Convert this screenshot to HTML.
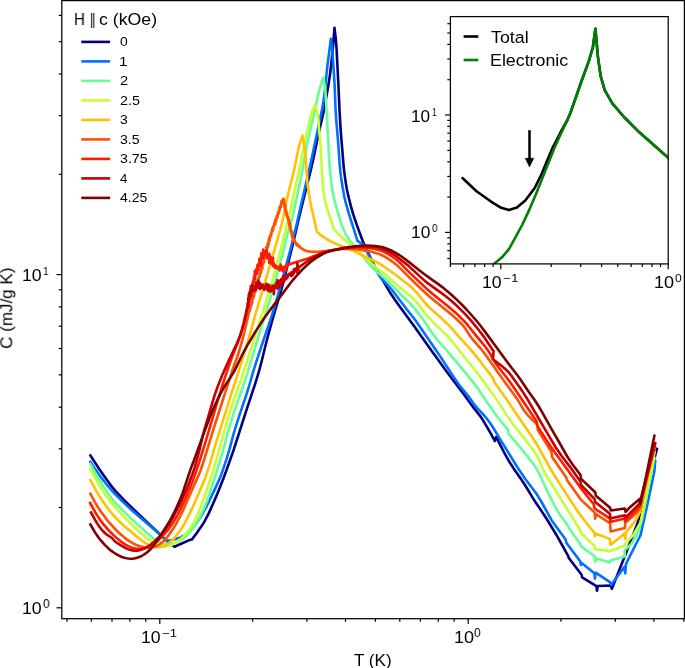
<!DOCTYPE html>
<html><head><meta charset="utf-8"><title>Specific heat</title>
<style>
html,body{margin:0;padding:0;background:#fff;}
#fig{position:relative;width:685px;height:668px;overflow:hidden;background:#fff;font-family:"Liberation Sans",sans-serif;color:#000;}
#fig svg{position:absolute;left:0;top:0;}
.t{position:absolute;white-space:pre;line-height:normal;transform-origin:0 0;will-change:transform;}
</style></head><body>
<div id="fig">
<svg width="685" height="668" viewBox="0 0 685 668">
<polyline points="90.4,455.5 99.2,469 103.8,475.6 107.3,480.5 110.3,484.6 112.8,487.7 115.4,490.8 118.7,494.5 123.6,499.7 129.3,505.3 146.8,521.9 161.4,535.8 164.4,538.6 167.4,541.2 170.5,543.7 174.5,546.8 189.3,540.1 192,539.4 196.8,533 200.2,528.1 203.5,523.1 206,518.7 208.7,513.4 212,506.1 216.4,496 220.2,486.8 223.1,479.3 226.9,469 230.6,458.6 233.9,449.2 245.8,412.1 255.2,383.6 257.6,375.9 259.3,370.2 261.6,361.5 266.1,343 268.9,332.4 273.2,317 279.8,294.9 283,283.4 293,243.6 298.6,219.3 311.1,168.8 313.1,160 318,136.5 322.4,117 323.7,111.1 326.4,96.4 328.5,84.6 330.1,73.7 331.5,61.8 333,45.8 334.5,27.9 335.8,38.8 336.5,47.8 338.5,86.8 339.6,111.8 340.6,128.8 341.1,135.8 342.3,149.8 343.4,163.7 344,169.7 344.9,176.7 345.9,183.6 347.1,190.5 348.9,198.3 350.9,206.1 353.1,213.8 355.6,221.4 358.6,229.9 361.7,238.3 363.6,243 365.6,247.5 375.1,267.4 377.5,271.7 382.3,279.3 387.8,288.9 391,294 394.9,299.8 399.5,306.3 414.4,326.5 427.1,344.4 446.4,371.2 451.8,378.5 464,394.4 473.3,407.4 478.9,414.4 480.7,416.8 482.9,420.1 486,425.3 490,432.2 494.8,441 496.2,436.9 500.7,445.8 504.4,453 507.2,458.2 509.8,462.5 513.6,468.4 521,479.1 523.8,483.2 526.5,487.5 533.2,498.6 535.4,502 541,510.2 545.9,517.8 553.3,529.7 558.4,538.3 562.3,545.3 568.1,555.8 568.8,558 581.6,574.7 582.2,577.4 596.4,586.1 597,590.8 597.7,586 610.5,585.5 611.9,588.8 626,553 637.5,523.5 656.9,448.9" fill="none" stroke="#000080" stroke-width="2.6" stroke-linejoin="round" stroke-linecap="square" />
<polyline points="90.4,461.8 94.2,467.7 97,471.8 100,475.9 103,479.9 106.1,483.8 109.3,487.6 112.6,491.4 116,495 122.4,501.4 130.4,508.9 140.2,517.5 156.9,531.8 161.4,535.8 166.4,540.7 171.8,540.1 180.5,537.4 183.9,535.3 186.4,533.7 188.7,531.9 190.2,530.5 192.3,528.4 194.2,526.1 196,523.7 198.3,520.4 200.4,517 203,512.8 205,509.3 207.3,504.9 209.5,500.4 216.4,485.9 219.7,478.6 221.1,474.9 222.8,470.2 226.6,458.8 229.5,449.2 233.4,434.7 235.4,427.9 238.4,418.4 246.4,394.7 248.5,388 253.2,371.6 256.2,362.1 262.8,342.1 270.6,319.4 274,308.9 278.1,294.5 283.8,274.2 289.8,252 293.5,237.4 296.3,225.7 301.6,202.3 306.7,180.9 308.7,172.1 311.3,160.4 319.8,120.2 322.4,107.4 323.4,101.5 324.1,96.6 325.3,86.6 327.4,65.7 330.9,38.9 331.9,46.9 332.5,52.8 332.9,58.8 333.8,71.8 334.6,84.9 335.5,107.9 336.1,117.9 338.4,145.9 339.7,164.9 340.3,170.9 341,176.9 342.2,184.8 343.4,191.7 344.5,197.6 345.9,203.4 347.3,208.3 348.7,213.1 357.5,240.8 361.6,243.5 363.5,244.8 368.9,255.6 374.4,266.2 377.5,272.5 378.9,275.1 380,276.7 381.2,278.3 382.4,279.8 388,285.3 390.7,288.3 406.5,309 415.2,320 418.7,324.9 435.2,348.9 440.2,356.4 455,379 459,384.8 461.5,387.9 467.9,395.6 469.7,398 473.7,403.7 475.6,406.1 477.5,408.3 482.3,413.4 484.9,416.4 487.5,419.5 489.9,422.7 493.2,427.8 501,440.6 516.8,466.2 520.6,472.1 525.1,478.7 535.4,492.3 537.1,494.8 538.7,497.3 541.8,502.5 551.5,520 552.8,522 565.6,539.5 566.5,543 580.2,561.2 580.9,565 581.6,563 594.4,573.3 595,578.6 595.7,572.7 609.9,582.1 611.2,584.8 624.7,566.6 625.3,573.3 626,563.8 640.6,535 647.6,503.5 654.4,471.1 655.2,461.2" fill="none" stroke="#0070ff" stroke-width="2.6" stroke-linejoin="round" stroke-linecap="square" />
<polyline points="90.4,463.9 94.2,471 97.1,476.2 100.2,481.4 103.3,486.5 106.1,490.6 108.9,494.7 112,498.7 114.5,501.8 117.9,505.5 122.8,510.4 130,517.4 136.5,523.6 141,527.6 152.3,537.5 155.5,539.9 158,541.4 160.6,542.7 163.4,543.6 166.3,544 168.2,544.1 170.1,544 173,543.4 175.8,542.6 178.5,541.4 181.1,540 182.8,538.9 185.1,537.1 187.3,535.1 189.3,532.9 191.8,529.7 194.1,526.5 196.8,522.3 198.8,518.9 201.1,514.4 203.3,509.9 205.6,504.4 207.1,500.7 208.4,496.9 214.7,477.9 217.7,468.4 221.2,456.9 223.4,449.2 228.1,431.8 231.5,420.3 235.8,406.9 243.8,384.3 247,374.8 249.3,367.1 259.5,332.6 261.6,325.9 265.4,314.5 267.2,308.8 273,288.6 277.9,271.3 282.6,253.9 284.6,246.1 288.4,230.6 292.1,218.1 293.4,213.3 296.9,196.7 299.9,183 301.1,177.1 302.6,169.2 306,149.5 307.6,141.7 313.1,118.3 317.5,97.8 318.6,92.9 319.4,90 320.5,86.1 323.3,77.6 324.7,85.5 325.2,89.5 325.6,93.4 326.1,102.4 327.5,128.5 328.6,147.5 329.5,164.5 329.9,169.5 330.5,175.5 331.1,181.4 331.8,186.4 332.8,192.3 333.7,197.3 334.9,202.1 336.5,207.9 339.4,217.5 341.5,224.2 343.7,229.8 344.9,232.5 345.8,234.3 346.8,236 348.4,238.6 351.3,242.6 353.9,245.7 361,254.1 368.6,263.4 371.2,266.4 373.3,268.6 376.2,271.3 384.7,278.3 388.4,281.7 398.8,292.5 407.5,300.8 409.6,302.9 412.3,305.9 414.9,308.9 418.7,313.6 421.7,317.6 424.6,321.7 431.3,331.7 433.6,334.9 436,338.1 439.2,342 447.2,351 451.1,355.6 461.3,367.9 470.3,378.7 474.1,383.4 478.2,389 484.9,399 490.1,406.4 495.1,413.8 496.9,416.3 501.2,421.8 508.3,430.2 508.3,433.5 517.4,444.2 526.4,455 531.9,462.1 534.3,465.4 535.9,467.9 538,471.3 539.4,474 540.7,476.7 544.8,485.8 548.2,493.1 553.6,503.9 556.9,510 558.5,512.6 560.2,515.1 564.4,520.7 566.1,523.1 567.7,525.6 570.8,530.7 573,534 576,538.1 580.2,543.7 580.9,546.4 595,556.5 595.3,561.9 596.4,558.5 609.9,562.5 610.5,560.5 624.7,556.5 624.7,550.4 631.4,543.7 638.1,532.9 642.2,518.1 654.4,458" fill="none" stroke="#63ff94" stroke-width="2.6" stroke-linejoin="round" stroke-linecap="square" />
<polyline points="90.4,469.3 93.7,475.5 96.6,480.7 99.2,485 102.4,490.1 105.7,495.1 109.2,500 112.3,503.9 115.5,507.8 120.2,513 125.8,518.7 142.4,534.6 145.4,537.2 147.8,539 151.1,541.3 154.5,543.3 157.2,544.7 159,545.4 161.8,546.2 163.7,546.4 165.6,546.4 167.5,546.2 169.3,545.8 172.1,544.7 174.7,543.3 177.1,541.7 180.2,539.2 183.2,536.5 185.9,533.6 188.5,530.5 190.8,527.3 192.5,524.8 194,522.2 195.8,518.7 197.4,515 199.3,510.4 204.5,496.3 211.9,474.5 214.3,466.8 216.8,458.2 225.6,426.3 228.4,416.7 230.4,410 233.9,399.5 240.4,381.7 243.2,373.1 255.3,334.9 262.8,312.1 265.7,302.5 272.8,278.5 276.1,267 279.5,254.4 289.3,215.6 290.4,210.7 293.4,196 298.4,173.5 305.2,140.2 310.1,118.7 311.1,114.8 312,112 313.1,109.2 315.1,104.6 316.5,109.4 317.3,112.4 317.9,115.3 318.4,119.3 319.2,130.4 320.4,144.4 320.9,150.4 321.3,158.5 321.9,173.6 322.3,178.6 323.1,187.6 323.9,194.6 325,200.6 325.7,203.5 326.7,207.4 328.2,212.2 334,229.4 343.9,239.3 349.1,244 361.3,254.3 370.2,262.4 374,265.7 377.8,268.9 385,274.3 387.3,276.2 389.5,278.2 394.7,282.9 396.9,284.9 407.8,293.8 412.2,297.7 415,300.6 417.7,303.6 419.5,305.9 425,313.1 427.5,316.2 430.2,319.1 433.6,322.8 437.1,326.4 445.1,333.9 447.2,336 449.9,339 452.5,342 473.1,367.8 480.5,377.3 494.6,396.7 498.1,401.6 501.4,406.6 507.2,415.9 510.5,420.9 514.1,425.7 522.2,435.9 527.8,442.9 531.4,447.7 534.3,451.8 536.4,455.2 538.4,458.7 540.1,462.3 544.1,471.4 545.4,474.1 546.9,476.7 565.5,506.3 580.2,530.2 580.5,532.5 594.4,545.7 595,549 609.9,551.1 624.7,545.7 625.3,543.7 632.8,535.6 640.8,522.1 654.6,452" fill="none" stroke="#c4ff33" stroke-width="2.6" stroke-linejoin="round" stroke-linecap="square" />
<polyline points="90.4,480 93.7,486.2 96.1,490.6 98.6,494.9 101.3,499.1 104.7,504.1 107.6,508.1 110.7,512 114,515.8 117.4,519.5 120.9,523 124.6,526.4 128.4,529.6 137.6,537.3 140.7,539.8 144.8,542.7 148.2,544.7 150.9,545.9 152.8,546.5 154.6,547 155.6,547.1 157.5,547.3 159.4,547.2 161.3,546.8 163.1,546.3 165.8,545.1 167.4,544 169.8,542.3 172,540.3 174.1,538.2 176.1,535.9 178.5,532.8 180.9,529.5 183,526.2 185,522.7 187.4,518.3 190,512.9 193,506.6 196.6,498.3 202.5,484.5 205.2,478 206.9,473.3 209.1,466.7 214,449.4 219,433.1 225.7,412.1 230.3,396.8 236.9,376.9 245.5,349.1 250.4,332.8 254.8,316.4 256.8,309.7 271.3,260.8 278,237.7 280.2,230 281.4,225.1 282.8,219.3 286.4,201.7 287.9,194.8 289.6,188 293.2,173.5 294.6,167.6 295.6,162.7 297.3,153.9 298.1,150 298.8,147 299.9,143.2 302.4,135.6 304.2,145.5 305.3,153.4 306,161.5 306.8,174.5 307.3,180.5 308,187.5 309,194.5 310,200.4 311.4,207.3 317,231.8 320.8,235 324.1,237.4 327.4,239.5 330.9,241.5 333.6,242.8 336.4,244 347.6,248.3 352.2,250.3 364.8,256.5 374.8,261.2 379.2,263.5 383.4,266.2 394.9,274.3 397.2,276.1 409.8,286 412.8,288.6 416.3,292.2 418.9,295.3 424.5,302.3 427.9,306 431.5,309.5 439,316.1 443.5,320.2 448.5,325.1 452,328.7 459.2,337 469.3,348.2 475.8,355.8 479.6,360.5 483.3,365.2 492.9,378.1 494.3,382 502.5,393.4 507,400 519.3,418.3 530.1,434 533.4,439 536.1,443.2 539.1,448.4 543,455.4 549.3,466.8 553.3,473.7 563,488.9 573.4,504.9 577.9,511.5 582,517.2 586.9,523.5 594.4,532.9 595,536.3 595.7,533.6 609.9,539 610.5,545 624.7,533.6 625.3,539 626,532.2 635.5,520.8 640,512 654.6,447" fill="none" stroke="#ffc100" stroke-width="2.6" stroke-linejoin="round" stroke-linecap="square" />
<polyline points="90.4,493.8 95.2,502.6 98.8,508.6 101.1,511.9 103.4,515.1 106.4,519.1 108.9,522.2 111.6,525.2 114.3,528.1 117.1,531 120,533.7 123,536.3 126.1,538.9 128.5,540.6 131,542.2 133.6,543.7 136.3,544.9 139.1,546 141,546.5 143.9,547.2 145.9,547.5 148.8,547.6 150.7,547.5 153.6,547 155.5,546.4 157.2,545.7 159,544.7 160.6,543.6 162.1,542.4 163.5,541.1 165.6,538.9 167.5,536.6 169.3,534.2 171,531.8 173.3,528.5 176.9,522.5 180.2,516.3 183.7,509.1 190.4,493.5 197,478.9 199,474.3 200.8,469.7 202.7,464 204.9,457.4 213.6,428.6 219.2,411.5 223.7,397.2 227.1,386.8 230.7,375.3 232.6,369.6 237.4,356.5 239.8,348.9 242,341.2 244.6,331.5 246.6,322.7 249,312 249.1,311 248.9,310.2 248.8,310.4 249.8,310.9 249.7,309.2 249.8,309 249.4,308.8 250.3,309 249.6,308.6 250.3,307.8 250.1,306.4 249.9,308.2 250,307.7 250.2,306 251.2,306.5 250.7,305.6 250.5,304.9 250.7,306 251.3,305 251.6,304.3 251.3,302.8 251.4,303.9 251.5,304.3 252.2,302.9 252.3,301.8 251.8,301.2 252.2,301.3 251.9,300.7 252.1,299.2 252.4,300.2 252,300.2 252.6,298.7 252.4,298.4 253.1,299 252.5,297.8 253.2,297.8 252.7,297.4 253.4,297.9 252.9,296.2 253.3,296.5 253.6,296.8 254.2,295.3 253.5,295.8 253.6,294.4 254.3,294.4 253.9,293.9 254.6,293.2 253.9,293.7 254.1,291.1 255.1,290.8 254.8,292.7 255.2,291.7 255.3,290.8 255.1,290.3 255.2,289.9 255.8,289.5 255.8,289.9 255.9,289.8 255.5,289.7 256,288.1 256.1,288.1 255.8,288.2 256.3,287 256.6,286.4 256.3,286.4 257,286.9 256.7,284.3 257.2,283.9 257.1,283.9 257.4,284.9 257.4,283.3 257.1,283.2 257.6,283 257.7,282.7 258,282.8 258.1,280.3 257.9,281.7 257.6,280.4 257.9,280 258.4,282 258.4,279.6 258.5,279.2 258.8,278.6 258.6,279 258.7,278.1 258.5,277.5 258.9,277 259.4,275.8 259.8,276.5 259.4,276.4 259.5,276.3 259.5,276.5 259.6,274.1 259.5,276.3 259.9,274.1 260.1,274.3 260,274.2 260.6,272.5 260.2,271.6 261,272.5 260.5,270.3 261.2,271.9 260.7,269.8 261,270.4 261.4,269.2 261.4,268.1 261.6,268.8 261.4,270.2 261.7,268.3 261.4,268.9 261.6,267.4 261.5,267.4 262.4,266.8 262.3,268.7 262.2,267.6 262.2,264.8 262.1,264.7 262.7,264.1 263,263.9 262.6,265.1 262.8,263.5 262.9,264.3 263.4,263.6 263,263.4 263.8,262.3 263.8,262.1 263.9,262.1 263.9,260.7 263.5,262 264.2,261.8 263.6,260.3 263.8,259.7 263.6,259.6 264.4,259.4 264.1,258.8 264.2,258.7 264.9,257.5 264.8,257.2 264.8,256.1 265,256.9 265.2,255.1 265,255.8 265.2,254.8 265.2,255.6 265.5,254.3 265.4,256 265.9,253.1 265.8,251.5 265.7,252.1 266.1,253.2 266.3,252.4 265.7,252 265.8,251.4 266,251 266,250.1 267,249.1 267.1,249.7 266.2,247.3 266.5,249.7 266.6,248.1 267.3,247.2 267,248.2 267,248.2 267.8,247.5 268,246.7 267.4,244.3 267.5,246.7 268,244.8 267.4,245.1 268.3,245.4 268.5,244.2 268.1,243 268.7,244.3 268.2,242.9 268.7,241.8 268.4,242 268.7,241.5 269,241.1 269.5,241 269.1,240 268.8,240.2 269,238.7 269.5,238.6 269.5,238.5 269.5,237 269.6,240.5 269.9,237.4 270,237.6 269.9,236.8 270.1,237.4 270.9,236.1 270.7,236.6 270.6,234.4 270.4,235 271.1,235.2 271.3,234.7 271.6,233.7 271.2,233.1 271.2,233.4 271.2,232.2 271.8,231.6 271.8,231.1 272.4,229.6 272,231.5 272.2,229.8 272.6,231.2 272.2,228.5 272.6,229.2 272.9,228 272.8,227.7 272.9,229.8 273.5,228 273.2,229.1 273.1,226.6 273.9,226 273.5,226.5 273.8,226.1 273.6,225.5 274,225.2 274.6,225 274.3,223.1 275,223.9 274.3,223.7 275.2,224.6 275.4,221.9 274.8,222.2 275.6,222 275.7,220.5 275.3,219.5 275.2,220.4 275.9,221 276.2,221.4 276.2,219.4 276.2,219.2 276.2,218.5 276.9,218.5 276.6,216.5 277.1,216.9 276.9,215.6 276.9,216.2 277.5,217.7 277.3,216.1 277.5,216 277.4,215 278,214.6 278.1,213.2 278.1,214.6 277.9,212.5 278,213.3 277.8,212.8 278.9,212.9 278.2,212.6 279.2,210.9 279.2,210.9 279.3,211.2 279,210.1 279.4,209.6 279.6,210.4 279.8,209.6 279.4,207.4 280,207.7 279.5,208 280.2,207.1 280.2,207.2 280.3,206.1 280.6,207.1 280.7,207.5 280.6,205.2 281.3,204.2 280.7,206.2 281.1,205.2 281.6,203.2 281.2,204.8 281.3,204.3 281.5,201.2 282.2,202.7 282.6,201.9 282.7,200.5 282.2,202.8 283,201.1 282.9,199.5 282.7,199.6 283.1,199.1 283.6,199.9 283.7,198.9 283.4,200.2 283.8,200.1 283.9,199.1 283.9,201.1 283.8,201.7 283.8,202.6 283.9,203.1 283.8,202.6 284.7,203.1 284.5,203.2 284.3,204.2 284.2,206.2 284.7,204.7 284.8,206 284.4,206.6 284.7,205.9 284.7,206.5 285.3,205.6 284.8,207.7 284.9,208.8 285.6,208 285.5,209.9 285.6,210.7 286.1,209.9 285.8,210.4 285.6,210.7 285.6,210.3 285.7,210.9 286.6,213.2 286.5,211.7 286.7,212.4 286.1,212.9 287,213.8 286.4,214.9 286.3,214.5 287.1,214.7 286.7,215.2 287,216.3 287.2,214.9 286.9,216.2 287.7,216.8 287.9,217.3 288.1,217.2 287.4,217.9 288.2,218.1 287.7,218.2 288.2,218.3 287.8,218.1 288.7,218.8 288.4,220.5 289,220.2 289.1,221 288.5,221 289.1,221.8 289.3,221.5 289.1,222.5 288.7,222.7 289.1,224 289.8,223 290,223 289.8,225 290,225.9 289.5,225.9 289.9,225.1 290.4,224.9 290,226 289.8,227.9 290.8,227 290.3,228.3 290.8,228.3 290.2,228.9 290.4,227.5 290.4,227.9 290.9,229.4 290.8,230.7 290.7,230.1 290.7,231.2 290.9,232.4 291.8,231.3 291.7,232.1 291.1,232 292.1,232.5 291.3,232.3 292.1,233.5 291.6,234.1 292.5,234.4 291.7,234.8 292.4,234.9 291.9,236.4 292.1,235.5 292.2,236.6 292.3,236.7 292.4,237.5 292.9,238.9 293.3,238.6 293.4,239.1 293.3,239 293.5,240.8 293.3,240.6 294.4,239.6 293.7,239.1 294.7,242.5 294.6,241.4 294.9,240.7 295.1,242.7 295.3,242 295.7,243.7 296.3,243.6 296.4,243.2 296.2,243.4 297,244.6 296.7,245.1 297.5,245.5 297.4,244.1 298,245.2 298.1,245.5 298.7,246 298.7,246.4 299.9,246.3 299.7,247.2 303.1,249.4 304.9,250.3 305.8,250.7 306.7,251 308.7,251.4 311.7,251.7 315.7,251.8 319.7,251.6 327.7,250.7 338.7,249.3 343.7,249 347.7,248.8 350.7,248.9 354.7,249.1 359.7,249.7 365.6,250.6 370.5,251.5 374.4,252.4 377.3,253.4 380,254.4 382.8,255.7 385.4,257.1 388,258.7 391.3,260.9 394.5,263.3 397.6,265.8 399.8,267.9 401.9,270 408.2,276.4 411.1,279.3 426.3,293.8 429.3,296.4 432.4,299 447.2,310.9 451.8,314.8 457.8,320.2 460.6,323 462.7,325.2 464.6,327.5 465.7,329.1 469.9,335.7 471.6,338.1 473.5,340.4 478.1,345.6 480.7,348.7 483.2,351.8 486.2,355.8 504.2,381.2 516.6,398.2 519.3,402.4 523.3,409.3 525.6,412.5 527.5,414.8 529.5,417 532.3,419.9 537.3,424.8 537.9,430 551.4,451.8 552.1,457 566.3,477.5 566.9,480 580.4,499.1 594.6,512.5 595.2,518.6 595.9,514 610.1,523.3 610.7,531.4 624.9,528 625.3,522.8 636.8,512.7 640,508 654.6,445" fill="none" stroke="#ff5200" stroke-width="2.6" stroke-linejoin="round" stroke-linecap="square" />
<polyline points="90.1,502.9 94.9,511.7 97,515.1 98.6,517.6 100.9,520.9 103.3,524.1 105.9,527.1 108.5,530.1 111.3,533 114.9,536.4 117.9,539.1 121,541.6 124.3,543.9 126.8,545.4 129.5,546.8 131.3,547.5 134.1,548.4 136,548.7 138,548.9 139.9,548.8 141.9,548.6 144.7,548 146.6,547.4 149.3,546.2 151.9,544.8 154.4,543.1 156.8,541.3 159.1,539.4 161.2,537.4 163.3,535.2 165.3,533 167.9,529.9 171.4,525 174.6,520 177.6,514.8 180.8,508.6 184.6,500.4 189,490.3 192.3,481.9 195.7,472.5 199.2,462.1 204.3,445.9 208.9,430.5 217.4,401.7 221.2,389.3 224.8,377.8 228,368.3 230.3,361.7 232.4,356.1 237.6,343.1 239,339.4 240.3,335.6 241.9,329.8 243.6,323 245.8,313.2 248.5,300.5 248.4,298.8 249,296.7 248.5,299.4 248.6,300 249.2,300.1 248.8,299.8 249,293.9 249.4,298.7 248.9,296.5 249.9,297.4 249.9,297.2 249.9,291.7 250.2,295.5 250.2,293 250,294.3 250,291.1 250,291.7 249.9,293.7 250.7,294.4 250.7,286.3 250.6,291.7 250.8,290.2 250.7,291.5 250.9,291.8 250.7,287.3 251,290.4 250.8,287.8 251,289 251.1,288 251.6,288.8 252,285.2 252.1,289.5 251.3,289.4 252.2,289.6 252.1,287.4 252.5,287.7 252.6,285.9 252.7,283.7 252.3,284.4 253,283.2 252.7,283.7 252.9,282.1 253,281.4 253.2,281.6 253,282 253.4,283.1 253,281.6 253.6,281.9 253.7,280.1 253.7,280.2 253.7,280.1 254.5,279.6 253.7,278.6 254.3,280.3 254,276.4 254.8,278.3 254.2,276.3 255.2,279.3 254.9,273.7 254.8,276.8 254.7,271.3 255.6,275.5 255.2,273.5 255.3,271 255.8,273.4 255.6,275.2 255.7,273.2 256,273.6 255.9,272.9 255.9,269.5 256.8,272.9 256.7,273.8 256.6,270.7 256.6,273 257.4,273.4 256.9,272.6 257.2,269.2 257.1,269.6 257.5,264.9 258.3,270 257.4,267 258.3,267.4 258,269.3 258,265.2 258,266.4 258.3,270.2 258.7,264.2 259.2,266.5 258.8,264.1 259.6,261.2 259.3,265.9 259.5,262.4 259.7,265.5 259.3,258.9 259.5,258.6 260,261.1 259.9,263.3 259.9,260.7 260,264.1 260.2,261 261,265.5 261.3,253.3 261.1,256.2 261.5,255.9 261.3,258.4 261.4,256.9 262.3,255.9 262.2,257.5 262.1,257.3 262,256.5 262.3,257.5 263,255 263.2,249.5 263.3,258.2 263.2,254.3 263.9,256.4 263.7,254.3 264,255.2 264,252.6 265,252.5 264.7,254.7 265.2,254.5 266.1,250.5 266.4,253.4 266.1,253.6 266.7,250.9 267.5,258.5 266.9,255.3 267.8,255.5 267.7,256 268.3,255.7 268.2,258.6 268.1,256.2 268.5,256.8 269,256.5 268.5,258.9 269.4,253.8 269.6,260.4 269.2,262.8 270.1,256.5 270.4,258 270.4,256.7 270.6,260 270.9,261.5 271.1,263.6 271.4,262.2 271.5,262.2 271.7,257.6 272.4,259.5 272.3,262.6 273.1,258.1 272.8,265.1 273.4,266.4 273.3,262.4 273.3,262.2 274.3,265 274.6,267.3 274.5,265.1 275,265.6 274.9,265 275.1,265.3 276.3,268 275.9,268.3 276.3,266.2 277.5,268 277.1,267.9 277.5,266.5 278,268.7 278.3,267.7 278.9,267.4 279.7,270.5 280.3,266.2 280.7,269.5 280.6,264.5 280.9,266.5 281.9,266.6 282.6,269.8 282.7,271.1 283.2,268.1 283.8,269.7 284.2,269.2 284.8,266.6 284.6,266.7 285.8,266.1 286.3,266.7 286,270.3 286.4,268 286.5,267.3 287.4,263.7 287.7,264.3 288,264.8 295.6,262.3 308,258.4 311.8,257 321.1,253.4 325.8,251.8 329.7,250.8 334.6,249.8 340.5,248.8 345.4,248.3 352.4,247.8 360.4,247.7 367.4,248 370.4,248.2 373.4,248.6 376.3,249.2 378.2,249.7 380.1,250.3 381.9,251 383.8,251.8 386.4,253.1 390.8,255.6 393.3,257.3 395.7,259 397.2,260.3 399.5,262.3 401.6,264.3 407.1,270.1 410.7,273.6 425.2,287.4 428.1,290.1 432.7,294 448.3,306.5 454.4,311.7 457.4,314.4 460.9,317.9 463.7,320.7 466.4,323.7 469.6,327.5 476.5,336.1 484.2,345.3 486.6,348.5 488.3,350.9 489.4,352.6 493.8,360.4 495.9,363.8 498.9,367.8 506.4,377.2 510.5,382.8 514.5,388.6 536.4,420.9 537.5,426.1 547.2,441.2 553.4,450.4 560.4,460.1 580.4,487.6 593.9,504.5 594.6,508.5 610.1,518.6 610.1,522 624.9,518.6 624.9,521.3 630,516.6 639.6,506.3 654.9,445" fill="none" stroke="#ff1a00" stroke-width="2.6" stroke-linejoin="round" stroke-linecap="square" />
<polyline points="91,512.4 95.9,521.3 97.5,523.9 99.1,526.4 101,528.8 102.3,530.3 104.4,532.5 106.6,534.5 112,538 115,541.5 120,544.8 124.3,547.4 126.1,548.3 127.9,549.1 130.6,550.1 132.5,550.5 133.5,550.6 134.4,550.7 136.4,550.7 137.3,550.6 139.2,550.3 141.1,549.8 143,549.1 144.7,548.3 146.5,547.4 148.2,546.3 150.6,544.6 152.9,542.7 155.1,540.7 159.5,536.5 162.8,532.8 165.8,528.8 169.2,523.8 172.7,517.8 175.1,513.4 177.9,508.1 180.6,502.7 183.1,497.2 185.5,491.7 187.8,486.2 190,480.6 192.1,474.9 194.7,467.3 197.2,458.7 199.3,450.9 202.9,435.3 204.7,428.5 212.4,402.6 214.4,395.9 216.1,391.1 218.1,385.5 220.3,379.9 222.2,375.3 227.5,363.4 236.5,344.3 238.4,339.7 239.9,336 242.2,329.3 244.4,321.6 246,314.8 248,305 247.7,303.7 248.6,301.2 248,303.6 248.4,306.7 248.1,302.1 248.7,300.5 248.1,302.8 248.4,306.1 248.4,302.2 248.3,298.1 248.8,299.8 249,299 248.5,299.2 248.7,300 249.6,293.6 249.1,302.1 249.3,300.3 248.9,295.3 249.5,296.3 249.1,295.8 249.9,295 249.6,295.9 249.5,296.4 249.5,292.9 250.3,296.3 249.6,295.4 250.5,296 249.9,295.4 250.5,292.3 250.6,290.5 250.7,289.9 250.4,293.2 250.9,292.1 251.5,295.6 250.8,293 251.5,293.2 251.3,288.8 252,284.9 252.2,284.8 252.4,286.9 252.7,289.8 253.2,291.1 253.3,287.7 253.7,288.2 254.8,286.1 255.1,286.4 254.9,287 255,287.3 255.4,287.1 255.8,290.5 256.1,282.3 256.5,283 257.3,283.8 257.6,287.4 258.3,285.3 258.5,282.5 258.4,280.8 259.1,288.3 259.8,282.8 260.1,288.9 260.1,286.7 260.7,283.8 261,286.1 261.9,286 261.8,285.2 262.5,288 262.7,286.3 263,284.7 263.4,287.6 263.4,288 264.3,289.1 264.2,289.9 265,286.6 265.6,286.3 265.7,287.6 265.8,288.1 266.1,283.7 267.1,289.6 266.8,286.8 267.7,284.5 267.7,290.5 269,287.5 269.3,291.5 269,284.9 270.1,288.8 270.1,290.3 270.8,291.5 271.4,289.1 271.6,287.2 272.5,288.4 272.2,287.3 272.3,285.6 273.6,288.7 273.9,294.2 274.2,289 274.1,285.8 274.3,287.7 274.4,286.8 275.6,287.9 275.9,283.5 275.8,287.5 276.5,284.1 276.1,283.2 277.1,286.5 277.1,282.9 277.4,280 277.6,288.8 278.2,285.2 278.4,283 278.6,283.6 278.9,283.3 279.3,287.3 279.5,284.7 279.8,280.6 280.7,281.1 281.2,279.2 281.2,282.3 281.7,284.9 282.1,282 282.4,282.7 282.5,278.7 283.2,278.9 283.1,276.1 283.4,279.8 283.6,278.7 284.7,278.3 284.4,281.1 284.6,277.2 285.3,277.4 285.8,275.9 285.9,279.1 286.6,277.2 286.2,276.5 286.7,276.9 287.4,278.2 287.6,275.4 288,274.6 288.2,274.7 289.1,273.8 289.4,274.7 289.9,274.7 289.5,274.9 290.5,275.2 290.7,275.5 290.4,274.9 291,272.5 291.5,276.2 291.7,275.5 292.4,272.9 292.8,271.7 293.2,272.4 292.9,274.8 293.6,271.8 293.9,269.4 293.9,273.1 294.9,268.7 294.5,270.6 295.3,269.5 295.3,270.9 295.9,269.3 296.2,269 296.7,269.8 297.3,266.2 297,272.2 297.3,263.1 298.2,269.8 298.5,270.1 298.3,268.1 299.3,267.1 304.1,263.5 308.2,260.7 313.4,257.6 317.8,255.2 321.4,253.5 324.1,252.5 327.9,251.3 331.8,250.5 342.6,248.5 349.6,247.5 353.6,247 357.5,246.7 361.5,246.5 365.5,246.4 368.5,246.4 371.5,246.5 374.5,246.8 376.4,247.1 378.4,247.5 380.3,248.1 382.2,248.7 384.9,249.8 388.5,251.5 392.9,254 397,256.7 401,259.7 404.9,262.9 408.7,266.1 421.2,277.6 425.7,281.6 429.7,284.6 439.5,291.6 445.1,295.8 451.3,300.8 456.5,305.5 461.5,310.4 466.4,315.4 471.7,321.4 476.2,326.8 479.9,331.5 484.1,337.1 488,342.9 493.6,351.2 492.9,359.3 498.5,363.5 502.4,366.6 505.5,369.2 507.7,371.3 509,372.7 510.9,375.1 519.1,386.5 522.5,391.4 526.8,398.2 549.6,437.1 553.7,444 556.3,448.3 558.6,451.6 561.5,455.7 569.4,466.1 571.8,469.3 580.4,481.6 581,485 594.6,499.1 595.2,502 610.1,513.9 610.1,518.6 624.9,515.2 624.9,518 630,513.2 639.6,503.6 655.2,443.1" fill="none" stroke="#c40000" stroke-width="2.6" stroke-linejoin="round" stroke-linecap="square" />
<polyline points="90.4,524.5 94.4,531.4 97.2,535.6 98.9,538 100.8,540.3 102.8,542.6 104.8,544.8 106.9,546.9 109.1,549 111.4,550.9 113,552 115.5,553.7 117.2,554.7 119,555.6 120.8,556.5 122.6,557.2 124.5,557.8 126.4,558.2 128.4,558.5 130.3,558.7 132.3,558.7 134.2,558.5 136.1,558.1 138,557.5 139.8,556.8 141.6,556 143.3,555 145,553.9 146.5,552.8 148.1,551.5 150.2,549.5 152.9,546.5 155.9,542.5 159.2,537.5 166.8,525.7 169.4,521.5 172.3,516.2 175,510.8 177.5,505.4 180.3,499 182.5,493.4 184.1,488.7 188.2,476.3 190.1,470.6 197.1,451.8 203.2,434.9 206.4,426.5 209.6,418.1 212.6,410.6 215.4,404.2 217.9,398.8 221.1,392.5 224.1,387.3 226.2,383.9 231.1,376.4 233.7,372.1 236.4,366.8 243,353.3 245.4,348.9 247.8,344.5 251.4,338.5 255.5,331.6 259.8,324.9 263.6,319 266.5,314.9 269.4,310.9 279.2,298.1 288.8,285.3 293.1,279.8 297.7,274.5 302.5,269.4 306.8,265.2 310.6,262 313,260.2 315.4,258.4 319.6,255.8 322.2,254.3 324,253.4 325.8,252.6 328.6,251.6 331.5,250.7 334.4,249.9 341.2,248.4 348.1,247.2 355,246.3 361,245.8 367,245.6 372,245.7 375,246 377,246.2 379.9,246.7 381.9,247.1 385.7,248.2 389.4,249.6 391.2,250.4 393.9,251.8 396.5,253.3 399,254.8 404,258.3 408.7,261.9 418.9,270 424.5,274.3 430.1,278.4 438.3,284.1 442.3,287.1 447,290.9 451.5,294.8 456.7,299.6 461.7,304.5 466.5,309.5 471.9,315.5 476.5,320.8 480.9,326.2 485.7,332.6 497.5,348.8 505.2,359.3 510,365.7 517.4,375.2 520.3,379.2 527.5,390 535.6,401.5 538.8,406.5 541.8,411.7 551.6,429.2 559.6,443 565.5,453.5 568.1,457.8 570.3,461.1 573.1,465.2 580.4,474.8 581.1,478.9 595.2,492.3 595.9,495.7 610.1,507.8 610.7,510.5 624.9,508.5 625.6,511.9 630,507.2 639.6,499.1 640.4,504 654.4,435.7" fill="none" stroke="#800000" stroke-width="2.6" stroke-linejoin="round" stroke-linecap="square" />
<line x1="67" y1="618.7" x2="67" y2="621.8" stroke="#000" stroke-width="1.2"/>
<line x1="91.4" y1="618.7" x2="91.4" y2="621.8" stroke="#000" stroke-width="1.2"/>
<line x1="112" y1="618.7" x2="112" y2="621.8" stroke="#000" stroke-width="1.2"/>
<line x1="129.9" y1="618.7" x2="129.9" y2="621.8" stroke="#000" stroke-width="1.2"/>
<line x1="145.7" y1="618.7" x2="145.7" y2="621.8" stroke="#000" stroke-width="1.2"/>
<line x1="159.8" y1="618.7" x2="159.8" y2="624" stroke="#000" stroke-width="1.2"/>
<line x1="252.6" y1="618.7" x2="252.6" y2="621.8" stroke="#000" stroke-width="1.2"/>
<line x1="306.9" y1="618.7" x2="306.9" y2="621.8" stroke="#000" stroke-width="1.2"/>
<line x1="345.5" y1="618.7" x2="345.5" y2="621.8" stroke="#000" stroke-width="1.2"/>
<line x1="375.4" y1="618.7" x2="375.4" y2="621.8" stroke="#000" stroke-width="1.2"/>
<line x1="399.8" y1="618.7" x2="399.8" y2="621.8" stroke="#000" stroke-width="1.2"/>
<line x1="420.4" y1="618.7" x2="420.4" y2="621.8" stroke="#000" stroke-width="1.2"/>
<line x1="438.3" y1="618.7" x2="438.3" y2="621.8" stroke="#000" stroke-width="1.2"/>
<line x1="454.1" y1="618.7" x2="454.1" y2="621.8" stroke="#000" stroke-width="1.2"/>
<line x1="468.2" y1="618.7" x2="468.2" y2="624" stroke="#000" stroke-width="1.2"/>
<line x1="561" y1="618.7" x2="561" y2="621.8" stroke="#000" stroke-width="1.2"/>
<line x1="615.3" y1="618.7" x2="615.3" y2="621.8" stroke="#000" stroke-width="1.2"/>
<line x1="653.9" y1="618.7" x2="653.9" y2="621.8" stroke="#000" stroke-width="1.2"/>
<line x1="683.8" y1="618.7" x2="683.8" y2="621.8" stroke="#000" stroke-width="1.2"/>
<line x1="61.8" y1="607.8" x2="56.5" y2="607.8" stroke="#000" stroke-width="1.2"/>
<line x1="61.8" y1="507.5" x2="58.7" y2="507.5" stroke="#000" stroke-width="1.2"/>
<line x1="61.8" y1="448.8" x2="58.7" y2="448.8" stroke="#000" stroke-width="1.2"/>
<line x1="61.8" y1="407.2" x2="58.7" y2="407.2" stroke="#000" stroke-width="1.2"/>
<line x1="61.8" y1="374.9" x2="58.7" y2="374.9" stroke="#000" stroke-width="1.2"/>
<line x1="61.8" y1="348.5" x2="58.7" y2="348.5" stroke="#000" stroke-width="1.2"/>
<line x1="61.8" y1="326.2" x2="58.7" y2="326.2" stroke="#000" stroke-width="1.2"/>
<line x1="61.8" y1="306.9" x2="58.7" y2="306.9" stroke="#000" stroke-width="1.2"/>
<line x1="61.8" y1="289.8" x2="58.7" y2="289.8" stroke="#000" stroke-width="1.2"/>
<line x1="61.8" y1="274.6" x2="56.5" y2="274.6" stroke="#000" stroke-width="1.2"/>
<line x1="61.8" y1="174.3" x2="58.7" y2="174.3" stroke="#000" stroke-width="1.2"/>
<line x1="61.8" y1="115.6" x2="58.7" y2="115.6" stroke="#000" stroke-width="1.2"/>
<line x1="61.8" y1="74" x2="58.7" y2="74" stroke="#000" stroke-width="1.2"/>
<line x1="61.8" y1="41.7" x2="58.7" y2="41.7" stroke="#000" stroke-width="1.2"/>
<line x1="61.8" y1="15.4" x2="58.7" y2="15.4" stroke="#000" stroke-width="1.2"/>
<rect x="61.8" y="0.6" width="622.6" height="618.1" fill="none" stroke="#000" stroke-width="1.25"/>
<line x1="82.6" y1="41.9" x2="108.8" y2="41.9" stroke="#000080" stroke-width="2.6" stroke-linecap="square"/>
<line x1="82.6" y1="61.4" x2="108.8" y2="61.4" stroke="#0070ff" stroke-width="2.6" stroke-linecap="square"/>
<line x1="82.6" y1="80.9" x2="108.8" y2="80.9" stroke="#63ff94" stroke-width="2.6" stroke-linecap="square"/>
<line x1="82.6" y1="100.4" x2="108.8" y2="100.4" stroke="#c4ff33" stroke-width="2.6" stroke-linecap="square"/>
<line x1="82.6" y1="119.9" x2="108.8" y2="119.9" stroke="#ffc100" stroke-width="2.6" stroke-linecap="square"/>
<line x1="82.6" y1="139.4" x2="108.8" y2="139.4" stroke="#ff5200" stroke-width="2.6" stroke-linecap="square"/>
<line x1="82.6" y1="158.9" x2="108.8" y2="158.9" stroke="#ff1a00" stroke-width="2.6" stroke-linecap="square"/>
<line x1="82.6" y1="178.4" x2="108.8" y2="178.4" stroke="#c40000" stroke-width="2.6" stroke-linecap="square"/>
<line x1="82.6" y1="197.9" x2="108.8" y2="197.9" stroke="#800000" stroke-width="2.6" stroke-linecap="square"/>
<rect x="450.4" y="16.6" width="217.8" height="247.3" fill="#fff" stroke="none"/>
<clipPath id="ic"><rect x="450.4" y="16.6" width="217.8" height="247.3"/></clipPath>
<polyline points="462.7,178.3 476.5,191.3 491.3,201.8 501.2,207.8 508.9,210.1 516.9,207.6 525.3,200.5 534.7,188 541.5,174.2 547.1,160.8 552.8,147.3 560.2,133 567.4,120 570.4,113 581.2,82 589,60.6 592.9,47 595.4,28.7 597.9,56.7 600.7,76.2 604.6,89.8 612.3,103.4 624,117 639.6,132.6 655.2,146.2 668.4,157.9" fill="none" stroke="#000" stroke-width="2.6" stroke-linejoin="round" stroke-linecap="square" clip-path="url(#ic)"/>
<polyline points="488,270 495.4,262.7 502.2,257.1 508.9,249.2 515.7,236.9 522.4,224.5 529.2,209.9 535.9,194.2 544.9,171.7 553.9,149.2 560.5,134.5 567.4,120 570.4,113 581.2,82 589,60.6 592.9,47 595.4,28.7 597.9,56.7 600.7,76.2 604.6,89.8 612.3,103.4 624,117 639.6,132.6 655.2,146.2 668.4,157.9" fill="none" stroke="#008000" stroke-width="2.6" stroke-linejoin="round" stroke-linecap="square" clip-path="url(#ic)"/>
<line x1="450.4" y1="263.9" x2="450.4" y2="267" stroke="#000" stroke-width="1.2"/>
<line x1="463.7" y1="263.9" x2="463.7" y2="267" stroke="#000" stroke-width="1.2"/>
<line x1="474.9" y1="263.9" x2="474.9" y2="267" stroke="#000" stroke-width="1.2"/>
<line x1="484.6" y1="263.9" x2="484.6" y2="267" stroke="#000" stroke-width="1.2"/>
<line x1="493.1" y1="263.9" x2="493.1" y2="267" stroke="#000" stroke-width="1.2"/>
<line x1="500.8" y1="263.9" x2="500.8" y2="269.2" stroke="#000" stroke-width="1.2"/>
<line x1="551.2" y1="263.9" x2="551.2" y2="267" stroke="#000" stroke-width="1.2"/>
<line x1="580.7" y1="263.9" x2="580.7" y2="267" stroke="#000" stroke-width="1.2"/>
<line x1="601.6" y1="263.9" x2="601.6" y2="267" stroke="#000" stroke-width="1.2"/>
<line x1="617.8" y1="263.9" x2="617.8" y2="267" stroke="#000" stroke-width="1.2"/>
<line x1="631.1" y1="263.9" x2="631.1" y2="267" stroke="#000" stroke-width="1.2"/>
<line x1="642.3" y1="263.9" x2="642.3" y2="267" stroke="#000" stroke-width="1.2"/>
<line x1="652" y1="263.9" x2="652" y2="267" stroke="#000" stroke-width="1.2"/>
<line x1="660.5" y1="263.9" x2="660.5" y2="267" stroke="#000" stroke-width="1.2"/>
<line x1="668.2" y1="263.9" x2="668.2" y2="269.2" stroke="#000" stroke-width="1.2"/>
<line x1="450.4" y1="258.5" x2="447.3" y2="258.5" stroke="#000" stroke-width="1.2"/>
<line x1="450.4" y1="250.6" x2="447.3" y2="250.6" stroke="#000" stroke-width="1.2"/>
<line x1="450.4" y1="243.8" x2="447.3" y2="243.8" stroke="#000" stroke-width="1.2"/>
<line x1="450.4" y1="237.8" x2="447.3" y2="237.8" stroke="#000" stroke-width="1.2"/>
<line x1="450.4" y1="232.4" x2="445.1" y2="232.4" stroke="#000" stroke-width="1.2"/>
<line x1="450.4" y1="197.1" x2="447.3" y2="197.1" stroke="#000" stroke-width="1.2"/>
<line x1="450.4" y1="176.4" x2="447.3" y2="176.4" stroke="#000" stroke-width="1.2"/>
<line x1="450.4" y1="161.8" x2="447.3" y2="161.8" stroke="#000" stroke-width="1.2"/>
<line x1="450.4" y1="150.4" x2="447.3" y2="150.4" stroke="#000" stroke-width="1.2"/>
<line x1="450.4" y1="141.1" x2="447.3" y2="141.1" stroke="#000" stroke-width="1.2"/>
<line x1="450.4" y1="133.2" x2="447.3" y2="133.2" stroke="#000" stroke-width="1.2"/>
<line x1="450.4" y1="126.4" x2="447.3" y2="126.4" stroke="#000" stroke-width="1.2"/>
<line x1="450.4" y1="120.4" x2="447.3" y2="120.4" stroke="#000" stroke-width="1.2"/>
<line x1="450.4" y1="115" x2="445.1" y2="115" stroke="#000" stroke-width="1.2"/>
<line x1="450.4" y1="79.7" x2="447.3" y2="79.7" stroke="#000" stroke-width="1.2"/>
<line x1="450.4" y1="59" x2="447.3" y2="59" stroke="#000" stroke-width="1.2"/>
<line x1="450.4" y1="44.4" x2="447.3" y2="44.4" stroke="#000" stroke-width="1.2"/>
<line x1="450.4" y1="33" x2="447.3" y2="33" stroke="#000" stroke-width="1.2"/>
<line x1="450.4" y1="23.7" x2="447.3" y2="23.7" stroke="#000" stroke-width="1.2"/>
<rect x="450.4" y="16.6" width="217.8" height="247.3" fill="none" stroke="#000" stroke-width="1.25"/>
<line x1="464.9" y1="36.5" x2="477" y2="36.5" stroke="#000" stroke-width="2.6" stroke-linecap="square"/>
<line x1="464.9" y1="60" x2="477" y2="60" stroke="#008000" stroke-width="2.6" stroke-linecap="square"/>
<line x1="529.5" y1="130.2" x2="529.5" y2="159" stroke="#000" stroke-width="2.5"/>
<polygon points="529.5,167 525.2,158.2 533.8,158.2" fill="#000" stroke="#000" stroke-width="0.5" stroke-linejoin="miter"/>
</svg>
<div class="t" style="left:21.87px;top:265.69px;font-size:16.58px;transform:scaleX(1.0701)">10</div>
<div class="t" style="left:43.04px;top:264.53px;font-size:11.35px;transform:scaleX(0.8967)">1</div>
<div class="t" style="left:21.87px;top:598.89px;font-size:16.58px;transform:scaleX(1.0701)">10</div>
<div class="t" style="left:42.82px;top:596.58px;font-size:12.51px;transform:scaleX(0.9543)">0</div>
<div class="t" style="left:140.88px;top:628.10px;font-size:17.02px;transform:scaleX(1.0368)">10</div>
<div class="t" style="left:161.74px;top:627.13px;font-size:11.35px;transform:scaleX(1.1668)">−1</div>
<div class="t" style="left:453.75px;top:628.10px;font-size:17.02px;transform:scaleX(1.0603)">10</div>
<div class="t" style="left:474.32px;top:625.74px;font-size:12.22px;transform:scaleX(0.9770)">0</div>
<div class="t" style="left:410.91px;top:107.39px;font-size:16.58px;transform:scaleX(1.0338)">10</div>
<div class="t" style="left:432.04px;top:106.10px;font-size:11.49px;transform:scaleX(0.7646)">1</div>
<div class="t" style="left:410.70px;top:223.26px;font-size:16.29px;transform:scaleX(1.0646)">10</div>
<div class="t" style="left:432.00px;top:222.33px;font-size:11.35px;transform:scaleX(0.8860)">0</div>
<div class="t" style="left:481.98px;top:273.33px;font-size:16.87px;transform:scaleX(1.0457)">10</div>
<div class="t" style="left:502.72px;top:272.23px;font-size:11.35px;transform:scaleX(1.1921)">−1</div>
<div class="t" style="left:654.05px;top:272.69px;font-size:16.58px;transform:scaleX(1.0882)">10</div>
<div class="t" style="left:674.61px;top:272.46px;font-size:11.20px;transform:scaleX(1.0845)">0</div>
<div class="t" style="left:353.92px;top:650.73px;font-size:16.44px;transform:scaleX(1.0389)">T (K)</div>
<div class="t" style="left:73.96px;top:11.35px;font-size:15.85px;transform:scaleX(0.9503)">H</div>
<div class="t" style="left:89.82px;top:11.12px;font-size:19.31px;transform:scaleX(0.6977)">‖</div>
<div class="t" style="left:99.45px;top:11.35px;font-size:15.85px;transform:scaleX(1.1184)">c (kOe)</div>
<div class="t" style="left:119.84px;top:34.37px;font-size:13.24px;transform:scaleX(1.0522)">0</div>
<div class="t" style="left:119.25px;top:53.87px;font-size:13.24px;transform:scaleX(1.1616)">1</div>
<div class="t" style="left:119.67px;top:73.37px;font-size:13.24px;transform:scaleX(1.1042)">2</div>
<div class="t" style="left:119.69px;top:92.87px;font-size:13.24px;transform:scaleX(1.0795)">2.5</div>
<div class="t" style="left:119.88px;top:112.37px;font-size:13.24px;transform:scaleX(1.0577)">3</div>
<div class="t" style="left:119.87px;top:131.87px;font-size:13.24px;transform:scaleX(1.0692)">3.5</div>
<div class="t" style="left:119.87px;top:151.37px;font-size:13.24px;transform:scaleX(1.0731)">3.75</div>
<div class="t" style="left:120.10px;top:170.87px;font-size:13.24px;transform:scaleX(0.9949)">4</div>
<div class="t" style="left:120.08px;top:190.37px;font-size:13.24px;transform:scaleX(1.0645)">4.25</div>
<div class="t" style="left:490.70px;top:29.28px;font-size:15.71px;transform:scaleX(1.1331)">Total</div>
<div class="t" style="left:490.43px;top:51.68px;font-size:15.71px;transform:scaleX(1.1348)">Electronic</div>
<div class="t" style="left:12.30px;top:348.05px;font-size:16.29px;transform-origin:0 0;transform:rotate(-90deg) scaleX(1.0455) translate(-0.81px,-14.74px)">C (mJ/g K)</div>
</div>
</body></html>
